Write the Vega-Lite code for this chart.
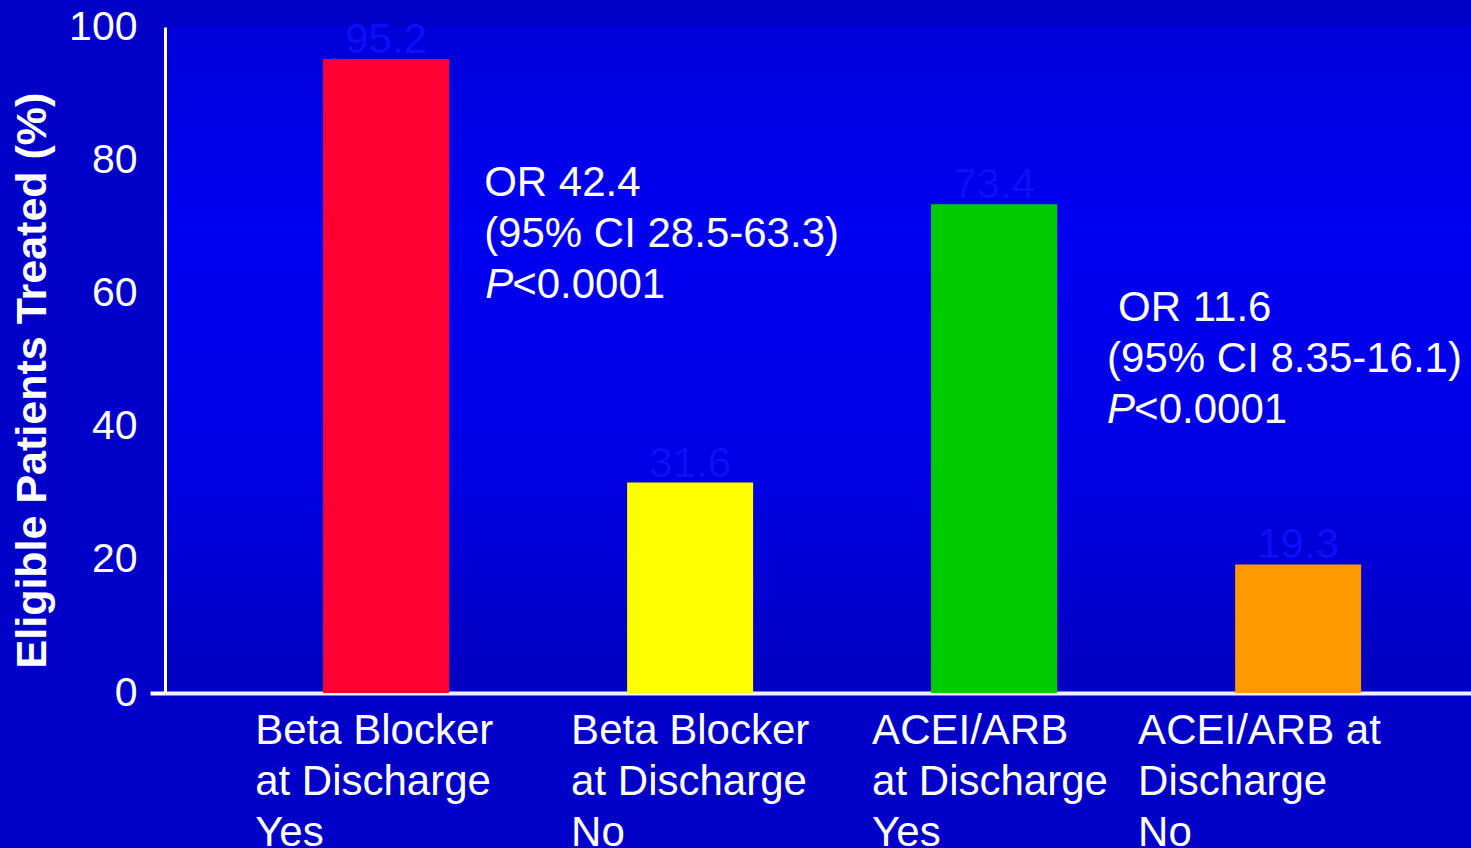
{
  "$schema": "https://vega.github.io/schema/vega-lite/v6.json",
  "width": 1306,
  "height": 666,
  "autosize": {"type": "none"},
  "padding": {"left": 165, "top": 27, "right": 0, "bottom": 155},
  "background": "#0000C8",
  "config": {
    "font": "Liberation Sans",
    "view": {
      "stroke": null,
      "fill": {
        "gradient": "linear",
        "x1": 0, "y1": 0, "x2": 0, "y2": 1,
        "stops": [
          {"offset": 0, "color": "#0000DA"},
          {"offset": 0.3, "color": "#0000F2"},
          {"offset": 0.65, "color": "#0000E6"},
          {"offset": 1, "color": "#0000C0"}
        ]
      }
    }
  },
  "datasets": {
    "bars": [
      {"group": "Beta Blocker\nat Discharge\nYes", "value": 95.2},
      {"group": "Beta Blocker\nat Discharge\nNo", "value": 31.6},
      {"group": "ACEI/ARB\nat Discharge\nYes", "value": 73.4},
      {"group": "ACEI/ARB at\nDischarge\nNo", "value": 19.3}
    ],
    "notes": [
      {"group": "Beta Blocker\nat Discharge\nYes", "value": 74.6, "text": "OR 42.4"},
      {"group": "Beta Blocker\nat Discharge\nYes", "value": 67.0, "text": "(95% CI 28.5-63.3)"},
      {"group": "ACEI/ARB\nat Discharge\nYes", "value": 55.9, "text": "OR 11.6"},
      {"group": "ACEI/ARB\nat Discharge\nYes", "value": 48.2, "text": "(95% CI 8.35-16.1)"}
    ],
    "pvals": [
      {"group": "Beta Blocker\nat Discharge\nYes", "value": 59.3, "p": "P", "rest": "<0.0001"},
      {"group": "ACEI/ARB\nat Discharge\nYes", "value": 40.5, "p": "P", "rest": "<0.0001"}
    ]
  },
  "encoding": {
    "x": {
      "field": "group",
      "type": "nominal",
      "sort": null,
      "scale": {
        "domain": [
          "Beta Blocker\nat Discharge\nYes",
          "Beta Blocker\nat Discharge\nNo",
          "ACEI/ARB\nat Discharge\nYes",
          "ACEI/ARB at\nDischarge\nNo"
        ],
        "paddingInner": 0.5855,
        "paddingOuter": 0.4408,
        "align": 0.59
      },
      "axis": {
        "title": null,
        "labelExpr": "split(datum.label, '\\n')",
        "labelAngle": 0,
        "labelAlign": "left",
        "labelBaseline": "top",
        "labelFontSize": 42,
        "labelColor": "white",
        "labelLineHeight": 51,
        "labelLimit": 500,
        "labelOverlap": false,
        "labelFlush": false,
        "labelBound": false,
        "labelPadding": 17,
        "labelOffset": {
          "condition": [
            {"test": "indexof(datum.value, 'ACEI/ARB at') === 0", "value": -160},
            {"test": "indexof(datum.value, 'Beta Blocker\\nat Discharge\\nYes') === 0", "value": -131},
            {"test": "indexof(datum.value, 'ACEI/ARB\\nat') === 0", "value": -122}
          ],
          "value": -119
        },
        "ticks": false,
        "domainColor": "#EEEEFF",
        "domainWidth": 4
      }
    },
    "y": {
      "field": "value",
      "type": "quantitative",
      "scale": {"domain": [0, 100], "nice": false},
      "axis": {
        "title": "Eligible Patients Treated (%)",
        "values": [0, 20, 40, 60, 80, 100],
        "grid": false,
        "labelFontSize": 41,
        "labelColor": "white",
        "labelPadding": 13,
        "domainColor": "white",
        "domainWidth": 3,
        "tickSize": 15,
        "tickWidth": 4,
        "tickColor": {"condition": {"test": "datum.value === 0", "value": "white"}, "value": "transparent"},
        "titleFontSize": 43,
        "titleFontWeight": "bold",
        "titleColor": "white",
        "titlePadding": 14,
        "titleY": 353
      }
    }
  },
  "layer": [
    {
      "data": {"name": "bars"},
      "mark": {"type": "bar"},
      "encoding": {
        "color": {
          "field": "group",
          "type": "nominal",
          "sort": null,
          "scale": {"range": ["#FF0033", "#FFFF00", "#00CC00", "#FF9900"]},
          "legend": null
        }
      }
    },
    {
      "data": {"name": "bars"},
      "mark": {"type": "text", "fontSize": 42, "color": "#0E0EF8", "baseline": "alphabetic", "dy": -6},
      "encoding": {"text": {"field": "value", "type": "quantitative", "format": ".1f"}}
    },
    {
      "data": {"name": "notes"},
      "transform": [{"filter": "indexof(datum.group, 'Beta') === 0"}],
      "mark": {"type": "text", "fontSize": 42, "color": "white", "align": "left", "baseline": "alphabetic", "dx": 98},
      "encoding": {"text": {"field": "text"}}
    },
    {
      "data": {"name": "notes"},
      "transform": [{"filter": "indexof(datum.group, 'ACEI') === 0 && indexof(datum.text, 'OR') === 0"}],
      "mark": {"type": "text", "fontSize": 42, "color": "white", "align": "left", "baseline": "alphabetic", "dx": 124},
      "encoding": {"text": {"field": "text"}}
    },
    {
      "data": {"name": "notes"},
      "transform": [{"filter": "indexof(datum.group, 'ACEI') === 0 && indexof(datum.text, 'OR') !== 0"}],
      "mark": {"type": "text", "fontSize": 42, "color": "white", "align": "left", "baseline": "alphabetic", "dx": 113},
      "encoding": {"text": {"field": "text"}}
    },
    {
      "data": {"name": "pvals"},
      "transform": [{"filter": "indexof(datum.group, 'Beta') === 0"}],
      "mark": {"type": "text", "fontSize": 42, "color": "white", "align": "left", "baseline": "alphabetic", "fontStyle": "italic", "dx": 99},
      "encoding": {"text": {"field": "p"}}
    },
    {
      "data": {"name": "pvals"},
      "transform": [{"filter": "indexof(datum.group, 'Beta') === 0"}],
      "mark": {"type": "text", "fontSize": 42, "color": "white", "align": "left", "baseline": "alphabetic", "dx": 126},
      "encoding": {"text": {"field": "rest"}}
    },
    {
      "data": {"name": "pvals"},
      "transform": [{"filter": "indexof(datum.group, 'ACEI') === 0"}],
      "mark": {"type": "text", "fontSize": 42, "color": "white", "align": "left", "baseline": "alphabetic", "fontStyle": "italic", "dx": 113},
      "encoding": {"text": {"field": "p"}}
    },
    {
      "data": {"name": "pvals"},
      "transform": [{"filter": "indexof(datum.group, 'ACEI') === 0"}],
      "mark": {"type": "text", "fontSize": 42, "color": "white", "align": "left", "baseline": "alphabetic", "dx": 140},
      "encoding": {"text": {"field": "rest"}}
    }
  ]
}
